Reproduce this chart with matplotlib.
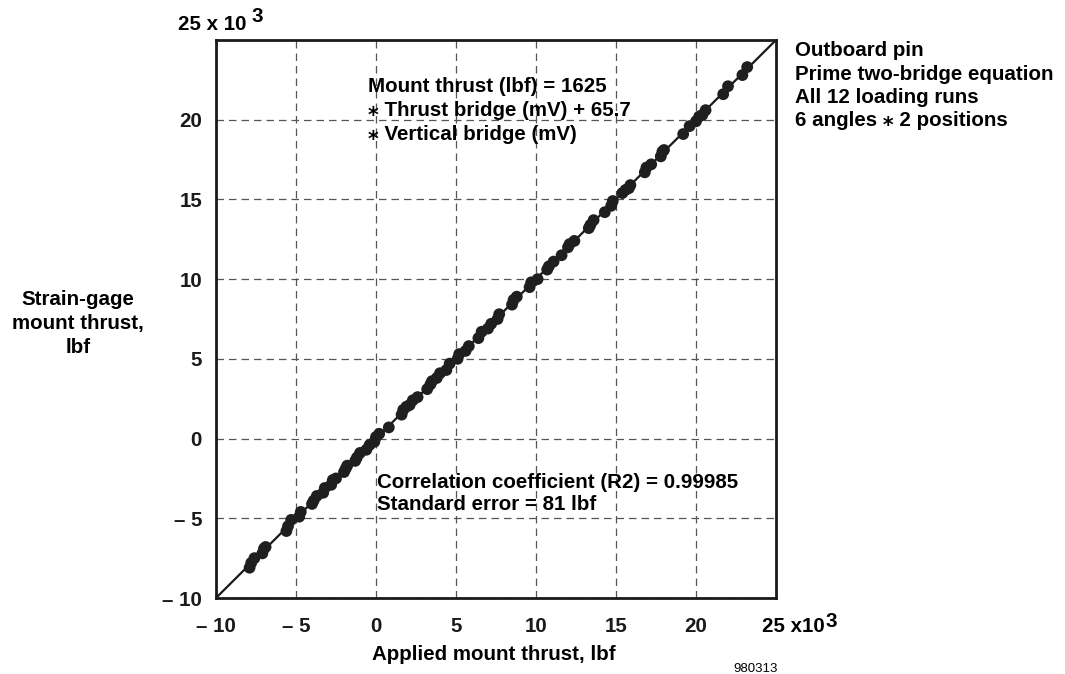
import numpy as np
import matplotlib
matplotlib.use("Agg")
import matplotlib.pyplot as plt

plt.rcParams['font.family'] = ['Liberation Sans', 'DejaVu Sans']
plt.rcParams['font.weight'] = 'bold'

W, H = 1065, 674

# applied vs strain-gage mount thrust, x 10^3 lbf
applied = [-7.9, -7.8, -7.6, -7.1, -7.0, -6.9, -5.6, -5.5, -5.3, -4.8, -4.7,
           -4.0, -3.9, -3.7, -3.3, -3.2, -2.8, -2.7, -2.5, -2.0, -1.9, -1.8,
           -1.3, -1.2, -1.0, -0.6, -0.4, -0.1, 0.0, 0.2, 0.8, 1.6, 1.7, 1.9,
           2.1, 2.3, 2.6, 3.2, 3.4, 3.5, 3.8, 4.0, 4.4, 4.6, 5.1, 5.2, 5.6,
           5.8, 6.4, 6.6, 7.0, 7.2, 7.6, 7.7, 8.5, 8.6, 8.8, 9.6, 9.7, 10.1,
           10.7, 10.8, 11.1, 11.6, 12.0, 12.1, 12.4, 13.3, 13.4, 13.6, 14.3,
           14.7, 14.8, 15.4, 15.6, 15.8, 15.9, 16.8, 16.9, 17.2, 17.8, 17.9,
           18.0, 19.2, 19.6, 20.0, 20.2, 20.4, 20.6, 21.7, 22.0, 22.9, 23.2]
measured = [-8.1, -7.8, -7.5, -7.2, -6.9, -6.8, -5.8, -5.5, -5.1, -4.9, -4.6,
            -4.1, -3.9, -3.6, -3.4, -3.1, -2.9, -2.6, -2.5, -2.1, -1.9, -1.7,
            -1.4, -1.2, -0.9, -0.7, -0.4, -0.2, 0.1, 0.3, 0.7, 1.5, 1.8, 2.0,
            2.1, 2.4, 2.6, 3.1, 3.4, 3.6, 3.8, 4.1, 4.3, 4.7, 5.0, 5.3, 5.5,
            5.8, 6.3, 6.7, 6.9, 7.2, 7.5, 7.8, 8.4, 8.7, 8.9, 9.5, 9.8, 10.0,
            10.6, 10.8, 11.1, 11.5, 12.0, 12.2, 12.4, 13.2, 13.4, 13.7, 14.2,
            14.6, 14.9, 15.4, 15.6, 15.7, 15.9, 16.7, 17.0, 17.2, 17.7, 18.0,
            18.1, 19.1, 19.6, 19.9, 20.2, 20.3, 20.6, 21.6, 22.1, 22.8, 23.3]
fit_line = [-10, 25]
ticks = [-10, -5, 0, 5, 10, 15, 20]
tick_labels = ['\u2013 10', '\u2013 5', '0', '5', '10', '15', '20']

ylabel_lines = ['Strain-gage', 'mount thrust,', 'lbf']
note_lines = ['Outboard pin', 'Prime two-bridge equation', 'All 12 loading runs',
              '6 angles \u204e 2 positions']
eq_lines = ['Mount thrust (lbf) = 1625', '\u204e Thrust bridge (mV) + 65.7',
            '\u204e Vertical bridge (mV)']
stat_lines = ['Correlation coefficient (R2) = 0.99985', 'Standard error = 81 lbf']

FS = 14.8


def ptext(x, y, s, **kw):
    # place text by pixel position (y from top, baseline)
    kw.setdefault('fontsize', FS)
    kw.setdefault('va', 'baseline')
    return fig.text(x / W, 1 - y / H, s, **kw)


fig = plt.figure(figsize=(W / 100, H / 100), dpi=100)
ax = fig.add_axes([216 / W, 1 - 598 / H, 560 / W, 558 / H])

ax.plot(fit_line, fit_line, color='#1a1a1a', lw=1.6, zorder=3)
ax.scatter(applied, measured, s=72, color='#1f1f1f', edgecolors='none', zorder=4)

ax.set_xlim(-10, 25)
ax.set_ylim(-10, 25)
ax.set_xticks(ticks)
ax.set_yticks(ticks)
ax.set_xticklabels(tick_labels, fontsize=FS, fontweight='bold')
ax.set_yticklabels(tick_labels, fontsize=FS, fontweight='bold')
ax.tick_params(axis='x', length=0, pad=14, colors='#1a1a1a')
ax.tick_params(axis='y', length=0, pad=10, colors='#1a1a1a')
ax.grid(True, color='#555555', ls=(0, (6, 4)), lw=0.9)
for sp in ax.spines.values():
    sp.set_linewidth(2)
    sp.set_color('#1a1a1a')

# 25 x 10^3 labels
ptext(178, 30, '25 x 10', fontweight='bold')
ptext(251, 22, '3', fontweight='bold')
ptext(762, 632, '25 x10', fontweight='bold')
ptext(826, 627, '3', fontweight='bold')

for i, line in enumerate(ylabel_lines):
    ptext(78, 305 + 24 * i, line, ha='center', fontweight='bold')

ptext(494, 660, 'Applied mount thrust, lbf', ha='center', fontweight='bold')
ptext(733, 672, '980313', fontsize=9.5, fontweight='normal')

for i, line in enumerate(note_lines):
    ptext(795, 56 + 23.5 * i, line, fontweight='bold')
for i, line in enumerate(eq_lines):
    ptext(368, 92 + 24 * i, line, fontweight='bold')
for i, line in enumerate(stat_lines):
    ptext(377, 488 + 22 * i, line, fontweight='bold')

fig.savefig('out.png', dpi=100)
